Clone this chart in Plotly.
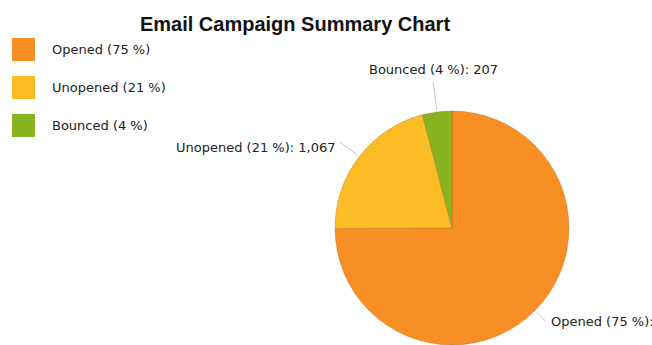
import math
import plotly.graph_objects as go

# Email campaign results
categories = ["Opened", "Unopened", "Bounced"]
counts = [3807, 1067, 207]
colors = ["#F78F25", "#FCBC26", "#87B420"]

W, H = 652, 345
CX, CY, R = 452, 228, 117  # pie centre (px from top-left) and radius
leader = [16, 24, 30]       # leader-line length per slice label (px)

total = sum(counts)
pcts = [round(100 * c / total) for c in counts]


def px(x):
    return x / W


def py(y):
    return 1 - y / H


fig = go.Figure(
    go.Pie(
        labels=categories,
        values=counts,
        sort=False,
        direction="clockwise",
        rotation=0,
        marker=dict(colors=colors, line=dict(color="rgba(170,100,20,0.35)", width=1)),
        textinfo="none",
        hoverinfo="label+value+percent",
        domain=dict(x=[px(CX - R), px(CX + R)], y=[py(CY + R), py(CY - R)]),
        showlegend=False,
    )
)

shapes = []
annotations = []

# Outside labels with leader lines, placed at each slice's mid-angle
label_font = dict(family="DejaVu Sans", size=13, color="#222")
start = 0.0
for name, val, pct, ln in zip(categories, counts, pcts, leader):
    span = 360.0 * val / total
    mid = math.radians(start + span / 2)
    start += span
    sx, sy = math.sin(mid), -math.cos(mid)
    x0, y0 = CX + (R + 2) * sx, CY + (R + 2) * sy
    x1, y1 = CX + (R + ln) * sx, CY + (R + ln) * sy
    shapes.append(dict(type="line", xref="paper", yref="paper",
                       x0=px(x0), y0=py(y0), x1=px(x1), y1=py(y1),
                       line=dict(color="#c8c8c8", width=1)))
    text = f"{name} ({pct} %): {val:,}"
    if abs(sx) < 0.3:
        ax, ay, xa, ya = x1, y1 - 3, "center", "bottom"
    elif sx < 0:
        ax, ay, xa, ya = x1 - 3, y1 + 5, "right", "middle"
    else:
        ax, ay, xa, ya = x1 + 3, y1, "left", "middle"
    annotations.append(dict(text=text, xref="paper", yref="paper",
                            x=px(ax), y=py(ay), xanchor=xa, yanchor=ya,
                            showarrow=False, font=label_font))

# Legend: large square swatches with category and share
for i, (name, pct, col) in enumerate(zip(categories, pcts, colors)):
    top = 38 + 38 * i
    shapes.append(dict(type="rect", xref="paper", yref="paper",
                       x0=px(12), x1=px(35), y0=py(top + 23), y1=py(top),
                       fillcolor=col, line=dict(width=0)))
    annotations.append(dict(text=f"{name} ({pct} %)", xref="paper", yref="paper",
                            x=px(50), y=py(top + 11.5), xanchor="left", yanchor="middle",
                            showarrow=False, font=label_font))

fig.update_layout(
    width=W,
    height=H,
    margin=dict(l=0, r=0, t=0, b=0),
    paper_bgcolor="white",
    plot_bgcolor="white",
    title=dict(text="<b>Email Campaign Summary Chart</b>", x=px(295), xanchor="center",
               y=py(24), yanchor="middle", yref="container",
               font=dict(family="Liberation Sans", size=20, color="#111")),
    shapes=shapes,
    annotations=annotations,
)

fig.write_html("out.html")
